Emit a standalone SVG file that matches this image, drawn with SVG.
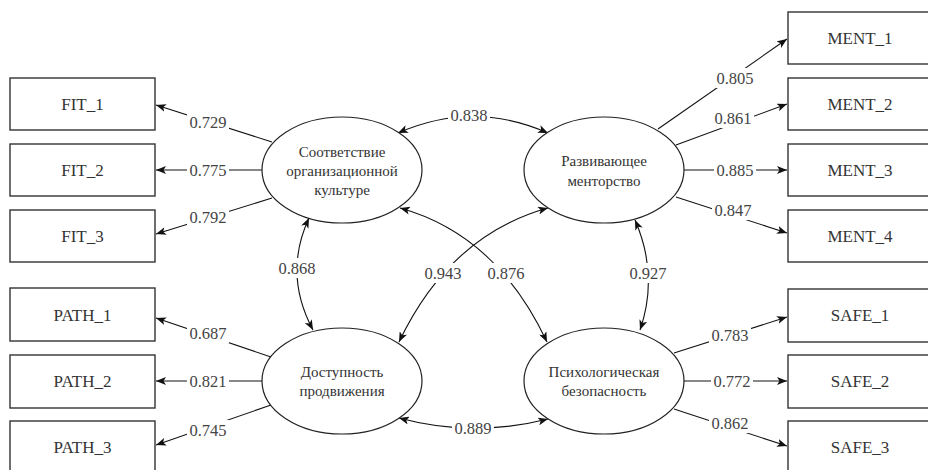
<svg xmlns="http://www.w3.org/2000/svg" width="928" height="470" viewBox="0 0 928 470">
<style>
.box{fill:#fff;stroke:#333;stroke-width:1.4}
.ell{fill:#fff;stroke:#222;stroke-width:1.2}
text{font-family:'Liberation Serif','Times New Roman',Tinos,'DejaVu Serif','Noto Serif',serif}
.bt{font-size:17px;fill:#333;text-anchor:middle;dominant-baseline:central}
.et{font-size:15px;fill:#333;text-anchor:middle;dominant-baseline:central}
.lt{font-size:16.5px;fill:#444;text-anchor:middle;dominant-baseline:central}
.ln{fill:none;stroke:#111;stroke-width:1.1}
.one{marker-end:url(#ah)}
.two{marker-start:url(#ah);marker-end:url(#ah)}
.bg{fill:#fff}
</style>
<defs>
<marker id="ah" viewBox="0 0 10 8" refX="10" refY="4" markerWidth="10" markerHeight="8" markerUnits="userSpaceOnUse" orient="auto-start-reverse">
<path d="M0,0 L10,4 L0,8 L2.5,4 z" fill="#111"/>
</marker>
</defs>
<g id="connectors">
<line class="ln one" x1="272" y1="142" x2="156" y2="105"/>
<line class="ln one" x1="262" y1="170" x2="156" y2="170"/>
<line class="ln one" x1="272" y1="198" x2="156" y2="234"/>
<line class="ln one" x1="271" y1="357" x2="156" y2="318"/>
<line class="ln one" x1="262" y1="381" x2="156" y2="381"/>
<line class="ln one" x1="271" y1="405" x2="156" y2="445"/>
<line class="ln one" x1="658" y1="129" x2="787" y2="39"/>
<line class="ln one" x1="676" y1="145" x2="787" y2="104"/>
<line class="ln one" x1="684" y1="170" x2="787" y2="170"/>
<line class="ln one" x1="676" y1="197" x2="787" y2="233"/>
<line class="ln one" x1="674" y1="353" x2="787" y2="317"/>
<line class="ln one" x1="684" y1="381" x2="787" y2="381"/>
<line class="ln one" x1="674" y1="409" x2="787" y2="446"/>
<path class="ln two" d="M398,133 Q473,100 548,133"/>
<path class="ln two" d="M399,418 Q473,438 548,419"/>
<path class="ln two" d="M309,218 Q283,274 313,330"/>
<path class="ln two" d="M635,220 Q659,275 640,330"/>
<path class="ln two" d="M399,342 Q450,235 548,208"/>
<path class="ln two" d="M400,208 Q497,235 547,342"/>
<g id="labels">
<rect class="bg" x="187" y="112" width="42" height="20"/><text class="lt" x="208" y="122">0.729</text>
<rect class="bg" x="187" y="160" width="42" height="20"/><text class="lt" x="208" y="170">0.775</text>
<rect class="bg" x="187" y="207" width="42" height="20"/><text class="lt" x="208" y="217">0.792</text>
<rect class="bg" x="187" y="323" width="42" height="20"/><text class="lt" x="208" y="333">0.687</text>
<rect class="bg" x="187" y="371" width="42" height="20"/><text class="lt" x="208" y="381">0.821</text>
<rect class="bg" x="187" y="420" width="42" height="20"/><text class="lt" x="208" y="430">0.745</text>
<rect class="bg" x="714" y="68" width="42" height="20"/><text class="lt" x="735" y="78">0.805</text>
<rect class="bg" x="712" y="108" width="42" height="20"/><text class="lt" x="733" y="118">0.861</text>
<rect class="bg" x="714" y="160" width="42" height="20"/><text class="lt" x="735" y="170">0.885</text>
<rect class="bg" x="712" y="200" width="42" height="20"/><text class="lt" x="733" y="210">0.847</text>
<rect class="bg" x="709" y="325" width="42" height="20"/><text class="lt" x="730" y="335">0.783</text>
<rect class="bg" x="711" y="371" width="42" height="20"/><text class="lt" x="732" y="381">0.772</text>
<rect class="bg" x="709" y="413" width="42" height="20"/><text class="lt" x="730" y="423">0.862</text>
<rect class="bg" x="448" y="105" width="42" height="20"/><text class="lt" x="469" y="115">0.838</text>
<rect class="bg" x="452" y="418" width="42" height="20"/><text class="lt" x="473" y="428">0.889</text>
<rect class="bg" x="276" y="258" width="42" height="20"/><text class="lt" x="297" y="268">0.868</text>
<rect class="bg" x="627" y="263" width="42" height="20"/><text class="lt" x="648" y="273">0.927</text>
<rect class="bg" x="422" y="263" width="42" height="20"/><text class="lt" x="443" y="273">0.943</text>
<rect class="bg" x="485" y="263" width="42" height="20"/><text class="lt" x="506" y="273">0.876</text>
</g>
</g>
<g id="FIT_1"><rect class="box" x="10" y="78" width="145" height="52"/><text class="bt" x="82.5" y="104">FIT_1</text></g>
<g id="FIT_2"><rect class="box" x="10" y="144" width="145" height="52"/><text class="bt" x="82.5" y="170">FIT_2</text></g>
<g id="FIT_3"><rect class="box" x="10" y="210" width="145" height="52"/><text class="bt" x="82.5" y="236">FIT_3</text></g>
<g id="PATH_1"><rect class="box" x="10" y="288" width="145" height="53"/><text class="bt" x="82.5" y="315">PATH_1</text></g>
<g id="PATH_2"><rect class="box" x="10" y="355" width="145" height="53"/><text class="bt" x="82.5" y="381">PATH_2</text></g>
<g id="PATH_3"><rect class="box" x="10" y="421" width="145" height="53"/><text class="bt" x="82.5" y="447">PATH_3</text></g>
<g id="MENT_1"><rect class="box" x="788" y="12" width="145" height="52"/><text class="bt" x="860" y="38">MENT_1</text></g>
<g id="MENT_2"><rect class="box" x="788" y="78" width="145" height="52"/><text class="bt" x="860" y="104">MENT_2</text></g>
<g id="MENT_3"><rect class="box" x="788" y="144" width="145" height="52"/><text class="bt" x="860" y="170">MENT_3</text></g>
<g id="MENT_4"><rect class="box" x="788" y="210" width="145" height="52"/><text class="bt" x="860" y="236">MENT_4</text></g>
<g id="SAFE_1"><rect class="box" x="788" y="289" width="145" height="53"/><text class="bt" x="860" y="315">SAFE_1</text></g>
<g id="SAFE_2"><rect class="box" x="788" y="355" width="145" height="53"/><text class="bt" x="860" y="381">SAFE_2</text></g>
<g id="SAFE_3"><rect class="box" x="788" y="421" width="145" height="53"/><text class="bt" x="860" y="447">SAFE_3</text></g>
<g id="FIT"><ellipse class="ell" cx="342" cy="170" rx="80" ry="53"/><text class="et" x="342" y="152">Соответствие</text><text class="et" x="342" y="171">организационной</text><text class="et" x="342" y="190">культуре</text></g>
<g id="MENT"><ellipse class="ell" cx="604" cy="170" rx="80" ry="53"/><text class="et" x="604" y="161">Развивающее</text><text class="et" x="604" y="181">менторство</text></g>
<g id="PATH"><ellipse class="ell" cx="342" cy="381" rx="80" ry="53"/><text class="et" x="342" y="372">Доступность</text><text class="et" x="342" y="391">продвижения</text></g>
<g id="SAFE"><ellipse class="ell" cx="604" cy="381" rx="80" ry="53"/><text class="et" x="604" y="372">Психологическая</text><text class="et" x="604" y="391">безопасность</text></g>
</svg>
